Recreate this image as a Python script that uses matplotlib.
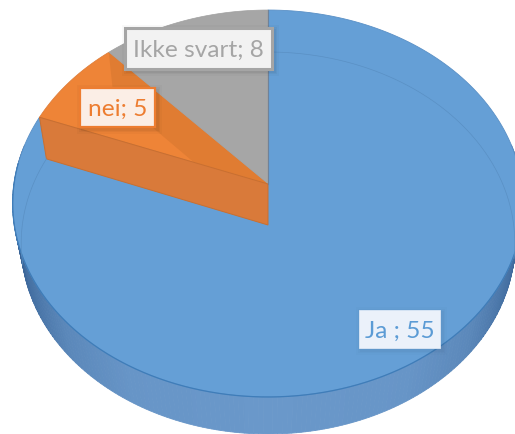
import numpy as np
import matplotlib
matplotlib.use("Agg")
import matplotlib.pyplot as plt
from matplotlib.patches import Polygon, Rectangle
from matplotlib.colors import to_rgb

categories = ["Ja ", "nei", "Ikke svart"]
values = [55, 5, 8]

plt.rcParams['font.family'] = ['Lato', 'DejaVu Sans']

BLUE, ORANGE, GRAY = "#659FD6", "#EE8437", "#A6A6A6"
TOP = dict(cx=268, cy=184, R=254, a=191.5, k=0.1008)
BOT = dict(cx=268, cy=225, R=245.7, a=189.3, k=0.0942)


def project(theta, g):
    """Circle angle (clockwise from 12 o'clock, degrees) to pixel position in perspective."""
    t = np.radians(theta)
    u, v = np.sin(t), np.cos(t)
    d = 1 + g['k'] * v
    return g['cx'] + g['R'] * u / d, g['cy'] - g['a'] * v / d


def arc(t0, t1, g, n=200):
    x, y = project(np.linspace(t0, t1, n), g)
    return np.column_stack([x, y])


fig = plt.figure(figsize=(5.15, 4.34), dpi=100, facecolor="white")
ax = fig.add_axes([0, 0, 1, 1])
ax.set_xlim(0, 515)
ax.set_ylim(434, 0)
ax.axis("off")

edges = np.concatenate([[0], np.cumsum(values)]) / sum(values) * 360
ja0, ja1 = edges[0], edges[1]
nei0, nei1 = edges[1], edges[2]
ikke0, ikke1 = edges[2], edges[3]

# outer wall of the disc, shaded along the rim
dark, light = np.array(to_rgb("#355F92")), np.array(to_rgb("#6A98CA"))
thetas = np.linspace(78, 282, 205)
for t0, t1 in zip(thetas[:-1], thetas[1:]):
    tm = 0.5 * (t0 + t1)
    s = np.interp(abs(np.sin(np.radians(tm))), [0.0, 0.5, 0.75, 0.93, 1.0], [1.0, 0.95, 0.72, 0.3, 0.0])
    col = dark + (light - dark) * s
    top = arc(t0, t1, TOP, 3)
    bot = arc(t0, t1, BOT, 3)
    ax.add_patch(Polygon(np.vstack([top, bot[::-1]]), closed=True, fc=col, ec=col, lw=0.6, zorder=1))

centre_t = np.array([[TOP['cx'], TOP['cy']]])
centre_b = np.array([[BOT['cx'], BOT['cy']]])

# top faces
ax.add_patch(Polygon(np.vstack([centre_t, arc(ja0, ja1, TOP)]), closed=True,
                     fc=BLUE, ec="#5A90C6", lw=0.6, zorder=2))
nei_face = Polygon(np.vstack([centre_t, arc(nei0, nei1, TOP)]), closed=True,
                   fc=ORANGE, ec="#DC7A36", lw=0.5, zorder=3)
ax.add_patch(nei_face)
ax.add_patch(Polygon(np.vstack([centre_t, arc(ikke0, ikke1, TOP)]), closed=True,
                     fc=GRAY, ec="#A0A0A0", lw=0.5, zorder=3))

# far cut wall of the orange slice, seen through its top
p1t, p1b = arc(nei1, nei1, TOP, 1), arc(nei1, nei1, BOT, 1)
wall = Polygon(np.vstack([p1t, centre_t, centre_b, p1b]), closed=True, fc="#E07C32", ec="none", zorder=4)
ax.add_patch(wall)
wall.set_clip_path(nei_face)

# near cut wall of the orange slice
p0t, p0b = arc(nei0, nei0, TOP, 1), arc(nei0, nei0, BOT, 1)
ax.add_patch(Polygon(np.vstack([p0t, centre_t, centre_b, p0b]), closed=True,
                     fc="#D97A3A", ec="#C96F30", lw=0.7, zorder=5))
ax.plot([TOP['cx'], TOP['cx']], [TOP['cy'] - TOP['a'] / (1 + TOP['k']), TOP['cy']],
        color="#6F8299", lw=0.8, zorder=5)

# seams: the disc's near rim and the lower circle seen through the top
rim = arc(ja1 - 195, ja1 - 15, TOP)
ax.plot(rim[:, 0], rim[:, 1], color="#3F7DB9", lw=0.9, zorder=6)
inner = arc(0, 100, BOT)
ax.plot(inner[:, 0], inner[:, 1], color="#5A90C4", lw=0.5, zorder=6)
inner = arc(nei0, 258, BOT)
ax.plot(inner[:, 0], inner[:, 1], color="#5A90C4", lw=0.5, zorder=6)

# data labels
boxes = [
    (359, 310, 81, 38, "#EBF1FA", "#DCE8F6", "#5B9BD5", 0.6, 0.5),
    (80, 88, 75, 39, "#FBEEE6", "#ED7D31", "#ED7D31", 1.6, 1.0),
    (125, 28, 147, 41, "#F2F2F2", "#A5A5A5", "#A5A5A5", 2.2, 1.0),
]
for i, (x, y, w, h, fc, ec, tc, lw, sh) in enumerate(boxes):
    for off, al in ((5, 0.025), (3, 0.035), (1.5, 0.04)):
        ax.add_patch(Rectangle((x - off + 2, y - off + 2), w + 2 * off, h + 2 * off,
                               fc="black", ec="none", alpha=al * sh, zorder=7))
    ax.add_patch(Rectangle((x, y), w, h, fc=fc, ec=ec, lw=lw, zorder=8))
    ax.text(x + w / 2, y + h / 2, f"{categories[i]}; {values[i]}", color=tc, fontsize=17.6,
            ha="center", va="center_baseline", zorder=9)

fig.savefig("out.png", dpi=100, facecolor="white")
